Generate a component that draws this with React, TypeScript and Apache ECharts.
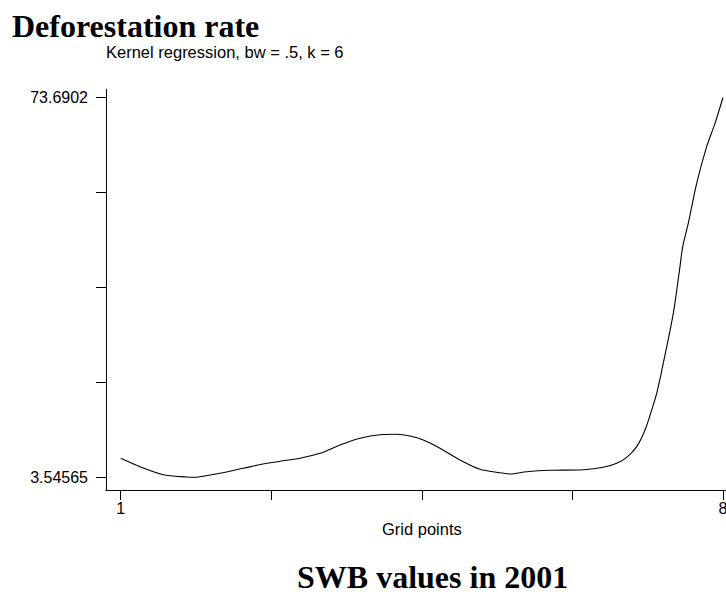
import React, { useEffect, useRef } from "react";
import * as echarts from "echarts";

const titleText = "Deforestation rate";
const subtitleText = "Kernel regression, bw = .5, k = 6";
const xAxisName = "Grid points";
const bottomTitle = "SWB values in 2001";

const gridX = [
  1.0, 1.224, 1.495, 1.767, 1.85, 1.922, 2.154, 2.425, 2.697, 2.929, 3.084,
  3.317, 3.549, 3.781, 4.014, 4.208, 4.363, 4.517, 4.711, 4.944, 5.176, 5.409,
  5.525, 5.719, 5.99, 6.377, 6.609, 6.765, 6.881, 6.997, 7.094, 7.172, 7.23,
  7.306, 7.423, 7.5, 7.532, 7.597, 7.695, 7.811, 7.908, 8.0,
];
const rateY = [
  7.04, 5.49, 4.01, 3.58, 3.546, 3.64, 4.27, 5.19, 6.12, 6.67, 7.04,
  7.96, 9.5, 10.74, 11.4, 11.48, 11.16, 10.42, 8.89, 6.73, 5.01, 4.38,
  4.14, 4.56, 4.82, 4.93, 5.38, 6.12, 7.22, 9.19, 12.27, 15.97, 19.06,
  24.6, 33.85, 42.46, 46.16, 50.49, 57.88, 64.65, 68.97, 73.6902,
];

const yTicks = [3.54565, 21.0818, 38.6179, 56.1541, 73.6902];
const yLabels = [3.54565, 73.6902];
const xTicks = [1, 2.75, 4.5, 6.25, 8];
const xLabels = [1, 8];

export default function App() {
  const ref = useRef<HTMLDivElement>(null);
  useEffect(() => {
    document.body.style.margin = "0";
    const chart = echarts.init(ref.current!, null, { renderer: "svg" });
    const sans = "'Liberation Sans', Arial, Helvetica, sans-serif";
    const serif = "'Liberation Serif', 'Times New Roman', serif";
    chart.setOption({
      animation: false,
      backgroundColor: "#fff",
      graphic: [
        {
          type: "text",
          left: 12,
          top: 10,
          style: { text: titleText, font: `bold 32px ${serif}`, fill: "#000" },
        },
        {
          type: "text",
          left: 106,
          top: 43,
          style: { text: subtitleText, font: `16.5px ${sans}`, fill: "#000" },
        },
        {
          type: "text",
          left: 297,
          top: 561,
          style: { text: bottomTitle, font: `bold 32px ${serif}`, fill: "#000" },
        },
      ],
      grid: {
        left: 106,
        top: 89.3,
        right: -11.7,
        bottom: 104,
        containLabel: false,
        outerBoundsMode: "none",
      },
      xAxis: {
        type: "value",
        min: 0.829,
        max: 8.171,
        name: xAxisName,
        nameLocation: "middle",
        nameGap: 25,
        nameTextStyle: { fontFamily: sans, fontSize: 16.5, color: "#000" },
        splitLine: { show: false },
        axisLine: { show: true, lineStyle: { color: "#000", width: 1 } },
        axisTick: { show: true, length: 10, customValues: xTicks, lineStyle: { color: "#000" } },
        axisLabel: {
          customValues: xLabels,
          margin: 10,
          fontFamily: sans,
          fontSize: 16,
          color: "#000",
          formatter: (v: number) => String(v),
        },
      },
      yAxis: {
        type: "value",
        min: 1.181,
        max: 75.205,
        splitLine: { show: false },
        axisLine: { show: true, lineStyle: { color: "#000", width: 1 } },
        axisTick: { show: true, length: 10, customValues: yTicks, lineStyle: { color: "#000" } },
        axisLabel: {
          customValues: yLabels,
          margin: 18,
          fontFamily: sans,
          fontSize: 16,
          color: "#000",
          formatter: (v: number) => String(v),
        },
      },
      series: [
        {
          type: "line",
          data: gridX.map((x, i) => [x, rateY[i]]),
          showSymbol: false,
          smooth: 0.3,
          lineStyle: { color: "#000", width: 1.1 },
        },
      ],
    });
    return () => chart.dispose();
  }, []);
  return <div ref={ref} style={{ width: 726, height: 594 }} />;
}
